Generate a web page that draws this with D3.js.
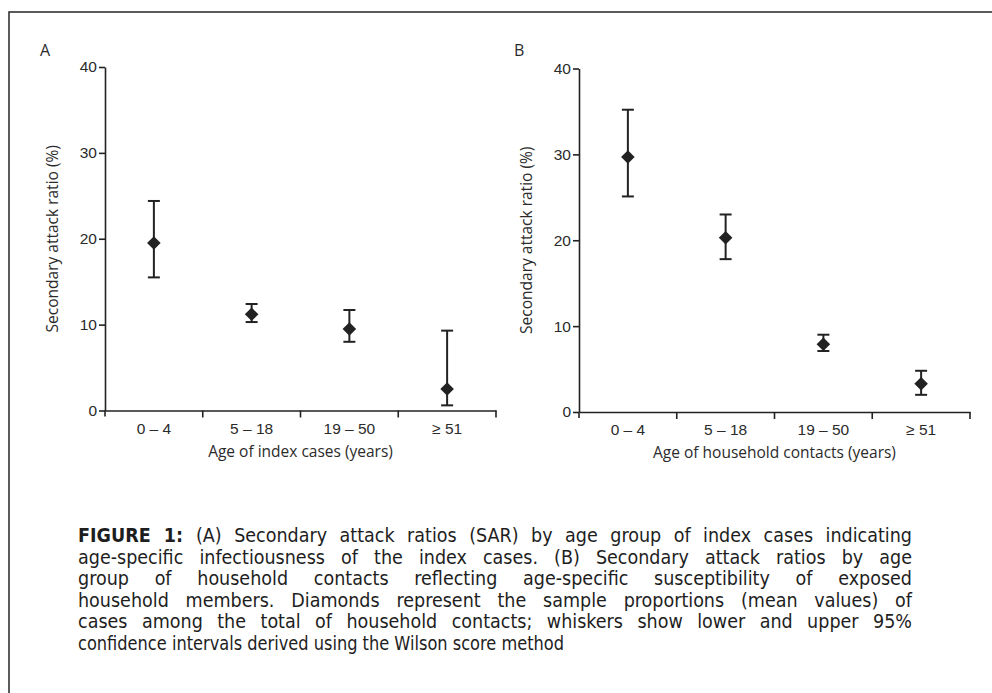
<!DOCTYPE html>
<html>
<head>
<meta charset="utf-8">
<script src="https://cdn.jsdelivr.net/npm/d3@7"></script>
<style>
  body { margin: 0; background: #fff; }
  svg { display: block; font-family: "Open Sans", "Noto Sans", sans-serif; }
  .axis text { fill: #2b2b2b; font-size: 15.5px; }
  .axis path, .axis line { stroke: #222; stroke-width: 1.6; }
  .caption { font-family: "DejaVu Sans Condensed", "Liberation Sans Narrow", "Liberation Sans", sans-serif; }
</style>
</head>
<body>
<div id="chart"></div>
<script>
// categories
const ageGroups = ["0 \u2013 4", "5 \u2013 18", "19 \u2013 50", "\u2265 51"];
const yTicks = [0, 10, 20, 30, 40];

// panel A: by age of index cases
const sarIndex = [19.5, 11.2, 9.5, 2.5];
const lowIndex = [15.5, 10.3, 8.0, 0.6];
const highIndex = [24.4, 12.4, 11.7, 9.3];

// panel B: by age of household contacts
const sarContacts = [29.7, 20.3, 7.9, 3.3];
const lowContacts = [25.1, 17.8, 7.1, 2.0];
const highContacts = [35.2, 23.0, 9.0, 4.8];

const captionLines = [
  "(A) Secondary attack ratios (SAR) by age group of index cases indicating",
  "age-specific infectiousness of the index cases. (B) Secondary attack ratios by age",
  "group of household contacts reflecting age-specific susceptibility of exposed",
  "household members. Diamonds represent the sample proportions (mean values) of",
  "cases among the total of household contacts; whiskers show lower and upper 95%",
  "confidence intervals derived using the Wilson score method"
];

const width = 992, height = 693;
const ink = "#222";

const svg = d3.select("#chart")
  .append("svg")
  .attr("width", width)
  .attr("height", height);

// frame (right and bottom edges run off the page)
svg.append("rect")
  .attr("x", 9).attr("y", 12)
  .attr("width", 1000).attr("height", 700)
  .attr("fill", "none")
  .attr("stroke", "#333")
  .attr("stroke-width", 1.6);

function panel(opts) {
  const g = svg.append("g");

  const x = d3.scaleBand()
    .domain(ageGroups)
    .range([opts.x0, opts.x1]);

  const y = d3.scaleLinear()
    .domain([0, 40])
    .range([opts.y0, opts.y1]);

  // y axis
  g.append("g")
    .attr("class", "axis")
    .attr("transform", `translate(${opts.x0},0)`)
    .call(d3.axisLeft(y).tickValues(yTicks).tickSize(6).tickSizeOuter(0).tickPadding(2));

  // small overhang of the y axis below zero
  g.append("line")
    .attr("x1", opts.x0).attr("x2", opts.x0)
    .attr("y1", y(0)).attr("y2", y(0) + 6)
    .attr("stroke", ink).attr("stroke-width", 1.6);

  // x axis (labels centred in bands)
  const xAxis = g.append("g")
    .attr("class", "axis")
    .attr("transform", `translate(0,${y(0)})`)
    .call(d3.axisBottom(x).tickSize(0).tickPadding(12));

  // tick marks at band boundaries
  xAxis.selectAll(".bound")
    .data(ageGroups)
    .enter()
    .append("line")
    .attr("class", "bound")
    .attr("x1", d => x(d) + x.bandwidth())
    .attr("x2", d => x(d) + x.bandwidth())
    .attr("y1", 0)
    .attr("y2", 7);

  // axis titles
  g.append("text")
    .attr("x", (opts.x0 + opts.x1) / 2)
    .attr("y", y(0) + 46)
    .attr("text-anchor", "middle")
    .attr("fill", "#2b2b2b")
    .style("font-size", "15.5px")
    .text(opts.xTitle);

  g.append("text")
    .attr("transform", "rotate(-90)")
    .attr("x", -(opts.y0 + opts.y1) / 2)
    .attr("y", opts.x0 - 47)
    .attr("text-anchor", "middle")
    .attr("fill", "#2b2b2b")
    .style("font-size", "15.5px")
    .text("Secondary attack ratio (%)");

  // panel letter
  g.append("text")
    .attr("x", opts.x0 - 65)
    .attr("y", 56)
    .attr("fill", "#2b2b2b")
    .style("font-size", "16px")
    .text(opts.letter);

  const rows = ageGroups.map((a, i) => ({
    age: a, v: opts.values[i], lo: opts.low[i], hi: opts.high[i]
  }));
  const cx = d => x(d.age) + x.bandwidth() / 2;

  // whiskers
  const bars = g.selectAll(".err")
    .data(rows)
    .enter()
    .append("g")
    .attr("class", "err")
    .attr("stroke", ink)
    .attr("stroke-width", 2);

  bars.append("line")
    .attr("x1", cx).attr("x2", cx)
    .attr("y1", d => y(d.lo)).attr("y2", d => y(d.hi));
  bars.append("line")
    .attr("x1", d => cx(d) - 6).attr("x2", d => cx(d) + 6)
    .attr("y1", d => y(d.hi)).attr("y2", d => y(d.hi));
  bars.append("line")
    .attr("x1", d => cx(d) - 6).attr("x2", d => cx(d) + 6)
    .attr("y1", d => y(d.lo)).attr("y2", d => y(d.lo));

  // diamonds
  g.selectAll(".pt")
    .data(rows)
    .enter()
    .append("path")
    .attr("class", "pt")
    .attr("d", d3.symbol(d3.symbolSquare, 92))
    .attr("transform", d => `translate(${cx(d)},${y(d.v)}) rotate(45)`)
    .attr("fill", ink);
}

panel({
  letter: "A", x0: 105, x1: 496, y0: 410.5, y1: 67,
  values: sarIndex, low: lowIndex, high: highIndex,
  xTitle: "Age of index cases (years)"
});

panel({
  letter: "B", x0: 579, x1: 970, y0: 412, y1: 68.5,
  values: sarContacts, low: lowContacts, high: highContacts,
  xTitle: "Age of household contacts (years)"
});

// caption, justified by widening the word gaps
const capX = 78, capW = 834, capY = 542, capLH = 21.6;
captionLines.forEach((line, i) => {
  const t = svg.append("text")
    .attr("class", "caption")
    .attr("x", capX)
    .attr("y", capY + i * capLH)
    .attr("fill", "#1e1e1e")
    .style("font-size", "19.5px");
  let full = line;
  if (i === 0) {
    t.append("tspan").style("font-weight", "bold").text("FIGURE 1: ");
    full = "FIGURE 1: " + line;
  }
  t.append("tspan").text(line);

  const last = i === captionLines.length - 1;
  const target = last ? 486 : capW;
  const natural = t.node().getComputedTextLength();
  const gaps = (full.match(/ /g) || []).length;
  if (natural < target && !last) {
    t.style("word-spacing", ((target - natural) / gaps) + "px");
  } else if (natural > target) {
    t.attr("textLength", target).attr("lengthAdjust", "spacingAndGlyphs");
  }
});
</script>
</body>
</html>
